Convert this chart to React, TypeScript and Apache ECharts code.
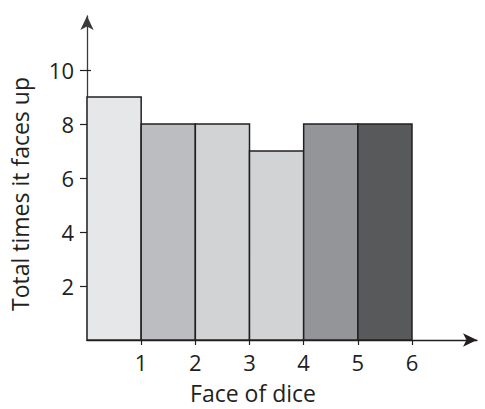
import React, { useEffect, useRef } from "react";
import * as echarts from "echarts";

const faces = [1, 2, 3, 4, 5, 6];
const counts = [9, 8, 8, 7, 8, 8];
const barColors = ["#e6e7e8", "#bcbdc0", "#d1d3d4", "#d1d3d4", "#939598", "#58595b"];
const yTicks = [2, 4, 6, 8, 10];
const xTicks = [1, 2, 3, 4, 5, 6];

const FONT = "Open Sans";

export default function App() {
  const ref = useRef<HTMLDivElement>(null);
  useEffect(() => {
    const chart = echarts.init(ref.current!, null, { renderer: "svg" });
    const data = faces.map((f, i) => [f - 1, f, counts[i], i]);
    chart.setOption({
      animation: false,
      backgroundColor: "#ffffff",
      grid: { left: 86, right: 8, top: 16, bottom: 63, containLabel: false },
      xAxis: {
        type: "value",
        min: 0,
        max: 7.2,
        name: "Face of dice",
        nameLocation: "middle",
        nameGap: 41,
        nameTextStyle: { fontFamily: FONT, fontSize: 23, color: "#231f20", padding: [0, 58, 0, 0] },
        splitLine: { show: false },
        axisLine: {
          show: true,
          onZero: false,
          symbol: ["none", "arrow"],
          symbolSize: [10, 14],
          lineStyle: { color: "#231f20", width: 1.3 },
        },
        axisTick: { show: true, customValues: xTicks, length: 5, lineStyle: { color: "#231f20", width: 1.2 } },
        axisLabel: {
          customValues: xTicks,
          margin: 11,
          fontFamily: FONT,
          fontSize: 22,
          color: "#231f20",
        },
      },
      yAxis: [
        {
          type: "value",
          min: 0,
          max: 12,
          interval: 2,
          name: "Total times it faces up",
          nameLocation: "middle",
          nameGap: 56,
          nameTextStyle: { fontFamily: FONT, fontSize: 23, color: "#231f20", padding: [0, 32, 0, 0] },
          splitLine: { show: false },
          axisLine: {
            show: true,
            symbol: ["none", "arrow"],
            symbolSize: [10, 14],
            lineStyle: { color: "#3a3a3c", width: 1.3 },
          },
          axisTick: { show: true, customValues: yTicks, length: 7, lineStyle: { color: "#231f20", width: 1.2 } },
          axisLabel: {
            customValues: yTicks,
            margin: 13,
            fontFamily: FONT,
            fontSize: 22,
            color: "#231f20",
          },
        },
        {
          type: "value",
          min: 0,
          max: 12,
          interval: 2,
          position: "left",
          offset: 0,
          splitLine: { show: false },
          axisLine: { show: false },
          axisTick: { show: true, inside: true, customValues: yTicks, length: 4, lineStyle: { color: "#231f20", width: 1.2 } },
          axisLabel: { show: false },
        },
      ],
      series: [
        {
          type: "custom",
          data,
          yAxisIndex: 0,
          encode: { x: [0, 1], y: 2 },
          renderItem: (params: any, api: any) => {
            const x0 = api.value(0);
            const x1 = api.value(1);
            const v = api.value(2);
            const idx = api.value(3);
            const p0 = api.coord([x0, 0]);
            const p1 = api.coord([x1, v]);
            return {
              type: "rect",
              shape: { x: p0[0], y: p1[1], width: p1[0] - p0[0], height: p0[1] - p1[1] },
              style: { fill: barColors[idx], stroke: "#231f20", lineWidth: 1.5 },
            };
          },
          z: 1,
        },
      ],
    });
    return () => chart.dispose();
  }, []);
  return <div ref={ref} style={{ width: 485, height: 409, position: "absolute", left: 0, top: 0 }} />;
}
